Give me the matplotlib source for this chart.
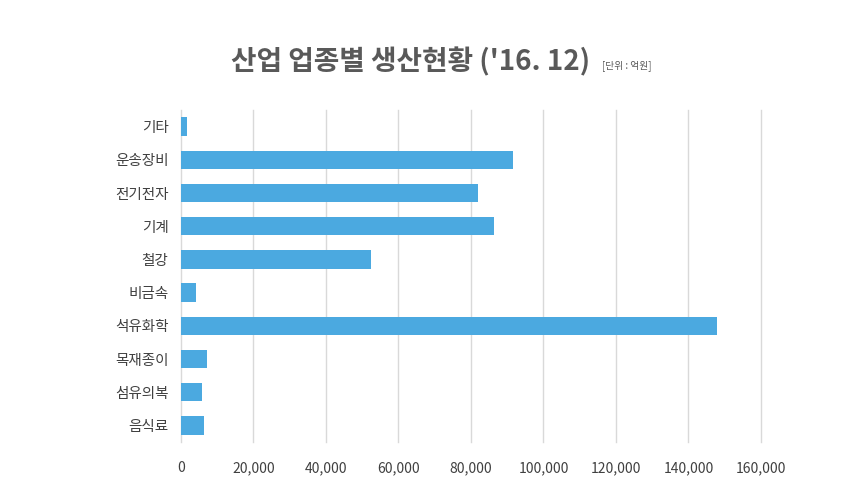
import matplotlib.pyplot as plt
from matplotlib.ticker import FuncFormatter

plt.rcParams['font.family'] = ['Noto Sans CJK KR', 'DejaVu Sans']

# 업종별 생산액 (단위: 억원), 위에서 아래 순서
categories = ["기타", "운송장비", "전기전자", "기계", "철강", "비금속",
              "석유화학", "목재종이", "섬유의복", "음식료"]
values = [1700, 91600, 81900, 86300, 52400, 4100, 147900, 7200, 5800, 6300]
xticks = [0, 20000, 40000, 60000, 80000, 100000, 120000, 140000, 160000]

fig = plt.figure(figsize=(8.55, 4.92), dpi=100)
ax = fig.add_axes([0.2117, 0.1016, 0.6783, 0.6748])

ypos = list(range(len(categories)))
ax.barh(ypos, values, height=0.55, color="#4BA9E0", zorder=3)

ax.set_yticks(ypos)
ax.set_yticklabels(categories, fontsize=10.5, color="#404040")
ax.set_ylim(len(categories) - 0.5, -0.5)

ax.set_xticks(xticks)
ax.set_xlim(0, 160000)
ax.xaxis.set_major_formatter(FuncFormatter(lambda v, p: f"{int(v):,}"))
ax.tick_params(axis='x', labelsize=10, colors="#404040", length=0, pad=14)
ax.tick_params(axis='y', length=0, pad=9)

# 세로 그리드만
ax.grid(axis='x', color="#d9d9d9", linewidth=1.0, zorder=0)
for line in ax.get_xgridlines():
    line.set_clip_on(False)
for s in ax.spines.values():
    s.set_visible(False)

# 제목 + 단위
fig.text(231 / 855, 1 - 62 / 492, "산업 업종별 생산현황 ('16. 12)", fontsize=20,
         fontweight='bold', color="#595959", ha='left', va='center')
fig.text(602 / 855, 1 - 66 / 492, "[단위 : 억원]", fontsize=7,
         color="#595959", ha='left', va='center')

fig.savefig("out.png", dpi=100)
